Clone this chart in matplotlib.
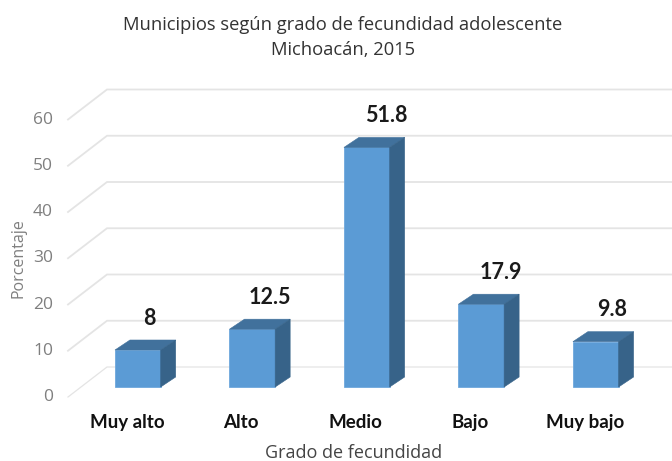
import matplotlib
matplotlib.use('Agg')
import matplotlib.pyplot as plt
from matplotlib.patches import Polygon

plt.rcParams['font.family'] = ['Open Sans', 'DejaVu Sans']

categories = ['Muy alto', 'Alto', 'Medio', 'Bajo', 'Muy bajo']
values = [8, 12.5, 51.8, 17.9, 9.8]
value_labels = ['8', '12.5', '51.8', '17.9', '9.8']
y_ticks = [0, 10, 20, 30, 40, 50, 60]

FRONT = '#5B9BD5'
TOP = '#41719C'
SIDE = '#376389'
GRID = '#E4E4E4'
TICK_GREY = '#7F7F7F'

W, H = 672, 461
fig = plt.figure(figsize=(W / 100, H / 100), dpi=100)
# axes = the front plane of the 3D box, value 0 at y=397px and 60 at y=119.5px
ax = fig.add_axes([68 / W, 1 - 397 / H, (W - 68) / W, (397 - 119.5) / H])
ax.set_xlim(-0.61, 4.666)
ax.set_ylim(0, 60)
ax.axis('off')

# depth of the box, in data units
unit_x = 114.5
unit_y = 4.625
depth_x = 39 / unit_x
depth_y = 30 / unit_y
bar_w = 45.7 / unit_x
bar_shift_y = 10 / unit_y
bar_dx = 15 / unit_x
bar_dy = 10 / unit_y
label_shift = [12, 18, 20, 20, 16]

## Grid
for t in y_ticks:
    lw = 0.9 if t == 0 else 1.3
    ax.plot([-0.61, -0.61 + depth_x, 4.666], [t, t + depth_y, t + depth_y],
            color=GRID, lw=lw, clip_on=False, zorder=1, solid_joinstyle='miter')
    ax.text(-0.61 - 15 / unit_x, t, str(t), ha='right', va='center',
            color=TICK_GREY, fontsize=12.5, clip_on=False)

## Bars
for i, v in enumerate(values):
    x0 = i - bar_w / 2
    x1 = i + bar_w / 2
    y0 = bar_shift_y
    y1 = v + bar_shift_y
    ax.add_patch(Polygon([(x0, y0), (x1, y0), (x1, y1), (x0, y1)],
                         fc=FRONT, ec='#6FA8DC', lw=0.6, zorder=3))
    ax.add_patch(Polygon([(x0, y1), (x1, y1), (x1 + bar_dx, y1 + bar_dy), (x0 + bar_dx, y1 + bar_dy)],
                         fc=TOP, ec=TOP, lw=0.4, zorder=3))
    ax.add_patch(Polygon([(x1, y0), (x1 + bar_dx, y0 + bar_dy), (x1 + bar_dx, y1 + bar_dy), (x1, y1)],
                         fc=SIDE, ec=SIDE, lw=0.4, zorder=3))
    ax.text(i + label_shift[i] / unit_x, y1 + bar_dy + 22 / unit_y, value_labels[i],
            ha='center', va='center', family='Lato',
            fontsize=15.5, fontweight='bold', color='#1A1A1A', zorder=4)
    ax.text(i - 11 / unit_x, -25 / unit_y, categories[i], ha='center', va='center', family='Lato',
            fontsize=13.5, fontweight='bold', color='#111111', clip_on=False)

## Titles
fig.text(343 / W, 1 - 25 / H, 'Municipios según grado de fecundidad adolescente',
         ha='center', va='center', fontsize=13.2, color='#333333')
fig.text(343 / W, 1 - 50 / H, 'Michoacán, 2015',
         ha='center', va='center', fontsize=13.2, color='#333333')
fig.text(354 / W, 1 - 453 / H, 'Grado de fecundidad',
         ha='center', va='center', fontsize=13, color='#444444')
fig.text(18 / W, 1 - 258 / H, 'Porcentaje', rotation=90,
         ha='center', va='center', fontsize=11.5, color=TICK_GREY)

fig.savefig('out.png', dpi=100)
